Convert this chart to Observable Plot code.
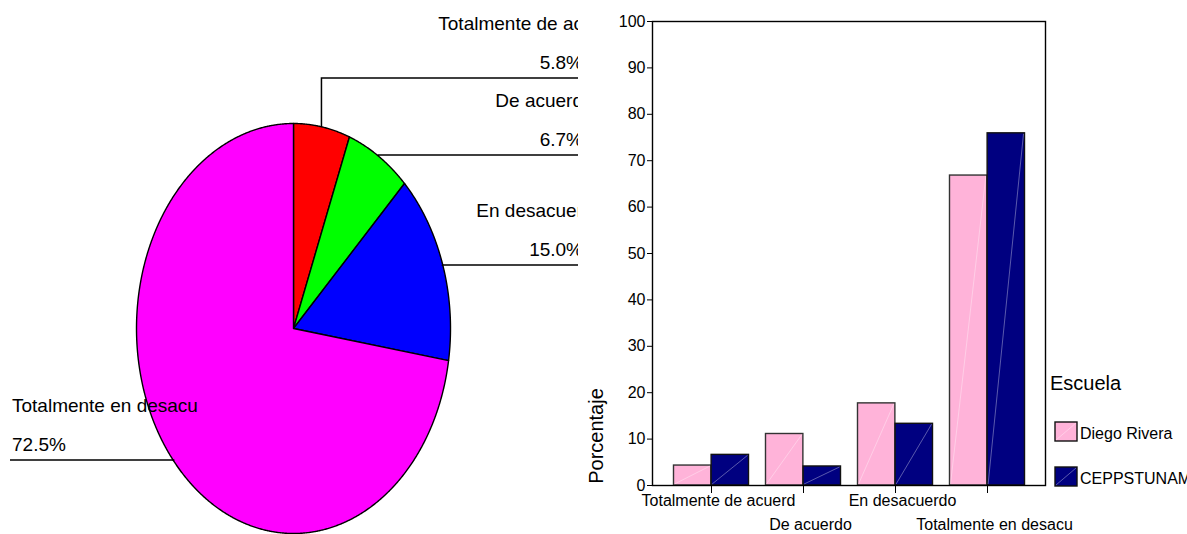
<!DOCTYPE html>
<html>
<head>
<meta charset="utf-8">
<script src="https://cdn.jsdelivr.net/npm/d3@7"></script>
<script src="https://cdn.jsdelivr.net/npm/@observablehq/plot@0.6"></script>
<style>
  html, body { margin: 0; padding: 0; background: #ffffff; }
  #wrap { position: relative; width: 1187px; height: 534px; overflow: hidden; background: #ffffff; }
  #wrap svg { position: absolute; top: 0; left: 0; max-width: none; }
</style>
</head>
<body>
<div id="wrap"></div>
<script>
// ---------- Data: pie (left) ----------
const pieCategories = ["Totalmente de acuerdo", "De acuerdo", "En desacuerdo", "Totalmente en desacuerdo"];
const pieValues = [5.8, 6.7, 15.0, 72.5];
const pieLabels = ["Totalmente de ac", "De acuerd", "En desacuer", "Totalmente en desacu"];
const pieColors = ["#ff0000", "#00ff00", "#0000ff", "#ff00ff"];

// ---------- Data: grouped bars (right) ----------
const barCategories = ["Totalmente de acuerd", "De acuerdo", "En desacuerdo", "Totalmente en desacu"];
const schools = ["Diego Rivera", "CEPPSTUNAM"];
const diegoRivera = [4.3, 11.1, 17.7, 66.8];
const ceppstunam = [6.6, 4.1, 13.3, 75.9];
const schoolColors = ["#ffb3d9", "#000080"];
const yTicks = [0, 10, 20, 30, 40, 50, 60, 70, 80, 90, 100];
const yTitle = "Porcentaje";
const legendTitle = "Escuela";

const FONT = "'Liberation Sans', Arial, Helvetica, sans-serif";
const wrap = document.getElementById("wrap");

// ---------- Pie chart ----------
const arcs = d3.pie().sort(null).value(d => d)(pieValues);
function slicePoints(a) {
  const pts = [{x: 0, y: 0}];
  const n = Math.max(2, Math.ceil((a.endAngle - a.startAngle) / 0.005));
  for (let k = 0; k <= n; k++) {
    const t = a.startAngle + (a.endAngle - a.startAngle) * k / n;
    pts.push({x: Math.sin(t), y: Math.cos(t)});
  }
  pts.push({x: 0, y: 0});
  return pts;
}
// layout of the callout labels (pixel rows of the leader lines)
const calloutLineY = [78, 155, 265, 460];
const calloutSide = ["right", "right", "right", "left"];

const pie = Plot.plot({
  width: 578,
  height: 534,
  margin: 0,
  x: {domain: [-1, 1], range: [136, 450], axis: null},
  y: {domain: [-1, 1], range: [533, 123], axis: null},
  style: {fontFamily: FONT, background: "transparent", overflow: "hidden", color: "black"},
  marks: [
    ...arcs.map((a, i) => Plot.line(slicePoints(a), {
      x: "x", y: "y", fill: pieColors[i], stroke: "black", strokeWidth: 1.4, curve: "linear"
    })),
    (index, scales) => {
      const g = d3.create("svg:g");
      arcs.forEach((a, i) => {
        const m = (a.startAngle + a.endAngle) / 2;
        const px = scales.x(Math.sin(m)), py = scales.y(Math.cos(m));
        const ly = calloutLineY[i];
        const right = calloutSide[i] === "right";
        const endX = right ? 583 : 10;
        g.append("path")
          .attr("d", `M${px},${py}L${px},${ly}L${endX},${ly}`)
          .attr("fill", "none").attr("stroke", "black").attr("stroke-width", 1.5);
        const tx = right ? 583 : 12;
        const anchor = right ? "end" : "start";
        g.append("text").attr("x", tx).attr("y", ly - 48)
          .attr("text-anchor", anchor).attr("font-size", 19).attr("fill", "black")
          .text(pieLabels[i]);
        g.append("text").attr("x", tx).attr("y", ly - 9)
          .attr("text-anchor", anchor).attr("font-size", 19).attr("fill", "black")
          .text(pieValues[i].toFixed(1) + "%");
      });
      return g.node();
    }
  ]
});
wrap.appendChild(pie);

// ---------- Bar chart ----------
const barData = barCategories.flatMap((c, i) => [
  {cat: c, school: schools[0], value: diegoRivera[i]},
  {cat: c, school: schools[1], value: ceppstunam[i]}
]);

function diagonal(index, scales, values, dimensions, context, next) {
  const g = next(index, scales, values, dimensions, context);
  g.querySelectorAll("rect").forEach(r => {
    const x = +r.getAttribute("x"), y = +r.getAttribute("y");
    const w = +r.getAttribute("width"), h = +r.getAttribute("height");
    const ln = document.createElementNS("http://www.w3.org/2000/svg", "line");
    ln.setAttribute("x1", x + 1); ln.setAttribute("y1", y + h - 1);
    ln.setAttribute("x2", x + w - 1); ln.setAttribute("y2", y + 1);
    ln.setAttribute("stroke", "white"); ln.setAttribute("stroke-opacity", 0.35);
    ln.setAttribute("stroke-width", 1);
    r.parentNode.appendChild(ln);
  });
  return g;
}

const half = 92.25 / 2;
const bars = Plot.plot({
  width: 1187,
  height: 534,
  marginLeft: 652,
  marginRight: 142,
  marginTop: 21,
  marginBottom: 49,
  x: {type: "band", domain: barCategories, range: [664, 1033], padding: 0, axis: null},
  y: {domain: [0, 100], axis: null},
  color: {domain: schools, range: schoolColors},
  style: {fontFamily: FONT, background: "transparent", color: "black", overflow: "hidden"},
  marks: [
    Plot.barY(barData.filter(d => d.school === schools[0]), {
      x: "cat", y: "value", fill: "school", stroke: "#333", strokeWidth: 1.4,
      insetLeft: 8.5, insetRight: half, render: diagonal
    }),
    Plot.barY(barData.filter(d => d.school === schools[1]), {
      x: "cat", y: "value", fill: "school", stroke: "#111", strokeWidth: 1.4,
      insetLeft: half, insetRight: 8.5, render: diagonal
    }),
    Plot.frame({stroke: "black", strokeWidth: 1.4}),
    Plot.axisY({ticks: yTicks, tickSize: 5, tickPadding: 2, fontSize: 16, label: null, tickFormat: d => String(d)}),
    Plot.axisX({ticks: barCategories, tickSize: 8, tickFormat: () => "", label: null}),
    Plot.axisX({ticks: [barCategories[0], barCategories[2]], tickSize: 0, tickPadding: 9.5, dx: 7, fontSize: 16, label: null}),
    Plot.axisX({ticks: [barCategories[1], barCategories[3]], tickSize: 0, tickPadding: 33.5, dx: 7, fontSize: 16, label: null}),
    (index, scales) => {
      const g = d3.create("svg:g").attr("fill", "black").attr("text-anchor", "start");
      // y axis title
      g.append("text").attr("transform", "translate(602.5,436) rotate(-90)")
        .attr("text-anchor", "middle").attr("font-size", 20).text(yTitle);
      // legend
      g.append("text").attr("x", 1050).attr("y", 390).attr("font-size", 20)
        .attr("text-anchor", "start").text(legendTitle);
      const rowsY = [422, 467];
      schools.forEach((s, i) => {
        const y0 = rowsY[i];
        g.append("rect").attr("x", 1055).attr("y", y0).attr("width", 22).attr("height", 19)
          .attr("fill", scales.color(s)).attr("stroke", "#111").attr("stroke-width", 1.4);
        g.append("line").attr("x1", 1056).attr("y1", y0 + 18).attr("x2", 1076).attr("y2", y0 + 1)
          .attr("stroke", "white").attr("stroke-opacity", 0.35);
        g.append("text").attr("x", 1080).attr("y", y0 + 17).attr("font-size", 16)
          .attr("text-anchor", "start").text(s);
      });
      return g.node();
    }
  ]
});
wrap.appendChild(bars);
</script>
</body>
</html>
